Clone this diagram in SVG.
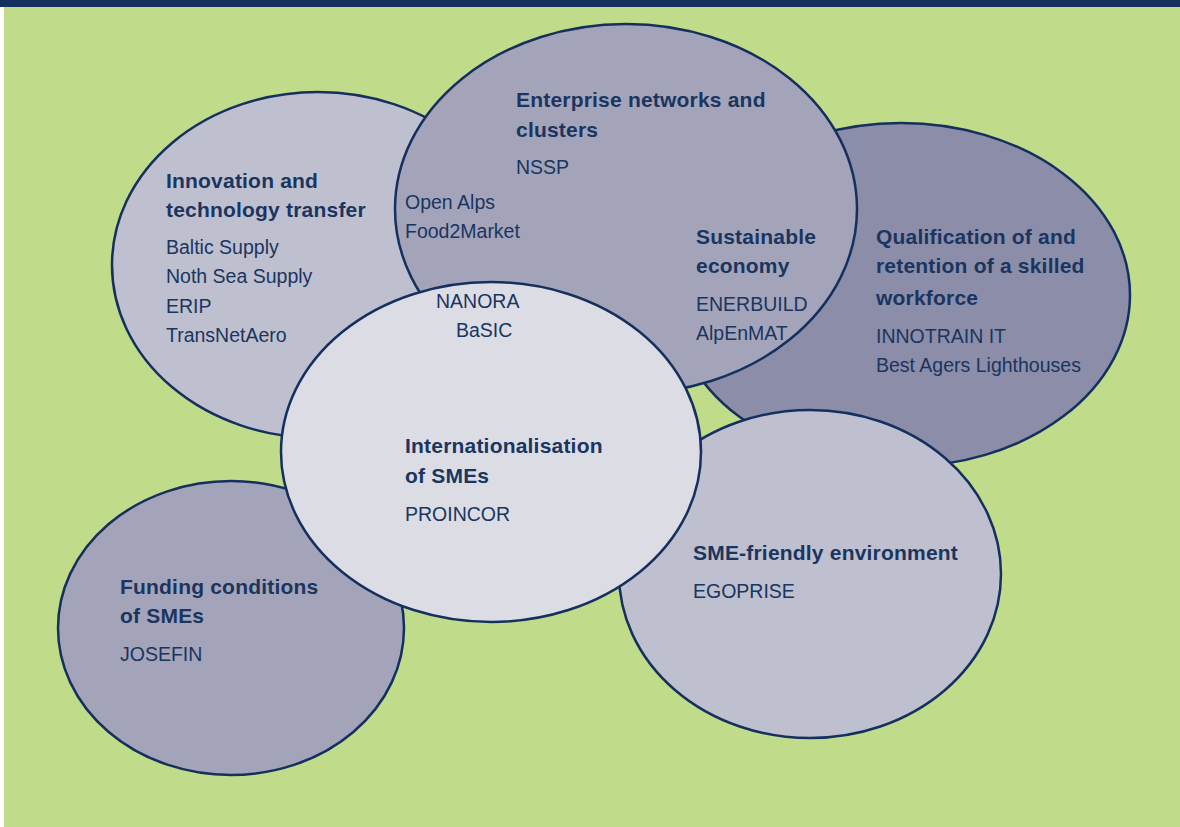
<svg xmlns="http://www.w3.org/2000/svg" width="1180" height="827" viewBox="0 0 1180 827">
  <style>
    .bubble { stroke: #15305e; stroke-width: 2.5; }
    .title { font-family: "Liberation Sans", Arial, sans-serif; font-weight: bold; font-size: 21px; letter-spacing: 0.2px; fill: #1a355f; }
    .item { font-family: "Liberation Sans", Arial, sans-serif; font-size: 19.5px; fill: #1a355f; }
  </style>

  <!-- page background and header rule -->
  <rect x="0" y="0" width="1180" height="827" fill="#ffffff"/>
  <rect x="4" y="0" width="1176" height="827" fill="#c0dc8a"/>
  <rect x="0" y="0" width="1180" height="7" fill="#14305e"/>

  <g id="connectors"/>

  <!-- bubbles, back to front -->
  <g id="innovation">
    <ellipse class="bubble" cx="318" cy="265" rx="206" ry="173" fill="#bfc0cf"/>
    <text class="title" x="166" y="188">Innovation and</text>
    <text class="title" x="166" y="217">technology transfer</text>
    <text class="item" x="166" y="254">Baltic Supply</text>
    <text class="item" x="166" y="283">Noth Sea Supply</text>
    <text class="item" x="166" y="313">ERIP</text>
    <text class="item" x="166" y="342">TransNetAero</text>
  </g>

  <g id="qualification">
    <ellipse class="bubble" cx="901" cy="295" rx="229" ry="172" fill="#8b8da9"/>
    <text class="title" x="876" y="244">Qualification of and</text>
    <text class="title" x="876" y="273">retention of a skilled</text>
    <text class="title" x="876" y="305">workforce</text>
    <text class="item" x="876" y="343">INNOTRAIN IT</text>
    <text class="item" x="876" y="372">Best Agers Lighthouses</text>
  </g>

  <g id="enterprise">
    <ellipse class="bubble" cx="626" cy="209" rx="231" ry="185" fill="#a3a4b9"/>
    <text class="title" x="516" y="107">Enterprise networks and</text>
    <text class="title" x="516" y="137">clusters</text>
    <text class="item" x="516" y="174">NSSP</text>
    <text class="item" x="405" y="209">Open Alps</text>
    <text class="item" x="405" y="238">Food2Market</text>
    <text class="title" x="696" y="244">Sustainable</text>
    <text class="title" x="696" y="273">economy</text>
    <text class="item" x="696" y="311">ENERBUILD</text>
    <text class="item" x="696" y="340">AlpEnMAT</text>
  </g>

  <g id="funding">
    <ellipse class="bubble" cx="231" cy="628" rx="173" ry="147" fill="#a3a4b9"/>
    <text class="title" x="120" y="594">Funding conditions</text>
    <text class="title" x="120" y="623">of SMEs</text>
    <text class="item" x="120" y="661">JOSEFIN</text>
  </g>

  <g id="sme-friendly">
    <ellipse class="bubble" cx="810" cy="574" rx="191" ry="164" fill="#bebfcf"/>
    <text class="title" x="693" y="560">SME-friendly environment</text>
    <text class="item" x="693" y="598">EGOPRISE</text>
  </g>

  <g id="internationalisation">
    <ellipse class="bubble" cx="491" cy="452" rx="210" ry="170" fill="#dbdce4"/>
    <text class="item" x="436" y="308">NANORA</text>
    <text class="item" x="456" y="337">BaSIC</text>
    <text class="title" x="405" y="453">Internationalisation</text>
    <text class="title" x="405" y="483">of SMEs</text>
    <text class="item" x="405" y="521">PROINCOR</text>
  </g>
</svg>
